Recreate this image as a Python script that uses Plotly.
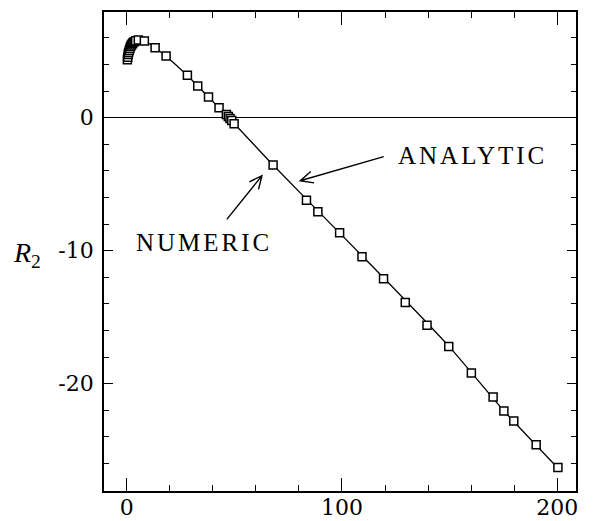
import math
import plotly.graph_objects as go

# Analytic solution, sampled along the curve
analytic_x = [0.3, 1.0, 2.0, 3.0, 4.0, 5.5, 8.0, 10.0, 13.0, 18.0, 28.0, 38.0, 50.0,
              68.0, 100.0, 120.0, 150.0, 175.0, 200.0]
analytic_y = [4.35, 4.95, 5.45, 5.68, 5.80, 5.86, 5.80, 5.62, 5.28, 4.66, 3.20, 1.56, -0.45,
              -3.56, -8.85, -12.15, -17.25, -22.0, -26.3]

# Numerical solution points
numeric_x = [0.3, 0.5, 0.7, 0.9, 1.2, 1.5, 1.8, 2.2, 2.6, 3.0, 3.5, 4.2, 5.4, 8.2,
             13.2, 18.3, 28.2, 33.0, 38.0, 42.9, 46.3, 47.2, 48.0, 48.8, 49.9,
             68.0, 83.5, 88.8, 98.9, 109.3, 119.3, 129.4, 139.5, 149.6, 160.1,
             170.2, 175.2, 179.8, 190.2, 200.3]
numeric_y = [4.35, 4.55, 4.75, 4.90, 5.05, 5.20, 5.35, 5.47, 5.57, 5.65, 5.72, 5.79, 5.84, 5.77,
             5.26, 4.64, 3.19, 2.38, 1.56, 0.75, 0.25, 0.10, -0.05, -0.20, -0.45,
             -3.56, -6.2, -7.07, -8.65, -10.45, -12.1, -13.9, -15.6, -17.2, -19.2,
             -21.0, -22.05, -22.8, -24.6, -26.3]

# Axis ticks
x_major = [0, 100, 200]
x_major_text = ["0", "100", "200"]
y_major = [0, -10, -20]
y_major_text = ["0", "-10", "-20"]

W, H = 593, 521
MARGIN = dict(l=104, r=17, t=12, b=30)
X_RANGE = [-10.54, 208.7]
Y_RANGE = [-28.07, 7.95]

plot_w = W - MARGIN["l"] - MARGIN["r"]
plot_h = H - MARGIN["t"] - MARGIN["b"]
px_x = plot_w / (X_RANGE[1] - X_RANGE[0])
px_y = plot_h / (Y_RANGE[1] - Y_RANGE[0])


def arrow_path(tail, tip, head_len=14, half_angle=25):
    """Open-V arrow from tail to tip (data coords), head sized in pixels."""
    dx = (tail[0] - tip[0]) * px_x
    dy = (tail[1] - tip[1]) * px_y
    ang = math.atan2(dy, dx)
    pts = []
    for s in (-1, 1):
        a = ang + s * math.radians(half_angle)
        pts.append((tip[0] + head_len * math.cos(a) / px_x,
                    tip[1] + head_len * math.sin(a) / px_y))
    return (f"M{tail[0]},{tail[1]} L{tip[0]},{tip[1]} "
            f"M{pts[0][0]},{pts[0][1]} L{tip[0]},{tip[1]} L{pts[1][0]},{pts[1][1]}")


fig = go.Figure()
fig.add_trace(go.Scatter(x=analytic_x, y=analytic_y, mode="lines",
                         line=dict(color="black", width=1.3, shape="spline", smoothing=0.6),
                         hoverinfo="skip"))
fig.add_trace(go.Scatter(x=numeric_x, y=numeric_y, mode="markers",
                         marker=dict(symbol="square", size=8, color="white",
                                     line=dict(color="black", width=1.5))))

label_font = dict(family="Liberation Serif", size=25, color="black")
fig.add_annotation(x=160.5, y=-2.88, xref="x", yref="y", showarrow=False, yshift=1,
                   text='<span style="letter-spacing:3px">ANALYTIC</span>', font=label_font)
fig.add_annotation(x=35.8, y=-9.42, xref="x", yref="y", showarrow=False, yshift=0,
                   text='<span style="letter-spacing:3px">NUMERIC</span>', font=label_font)
fig.add_annotation(x=(11 - MARGIN["l"]) / plot_w, y=(H - MARGIN["b"] - 255) / plot_h,
                   xref="paper", yref="paper", xanchor="left", showarrow=False,
                   text="<i>R</i><sub>2</sub>",
                   font=dict(family="Liberation Serif", size=28, color="black"))

fig.add_shape(type="path", xref="x", yref="y",
              path=arrow_path((119.4, -2.93), (80.6, -4.74)),
              line=dict(color="black", width=1.4))
fig.add_shape(type="path", xref="x", yref="y",
              path=arrow_path((46.5, -7.64), (62.8, -4.36)),
              line=dict(color="black", width=1.4))

axis_common = dict(showline=True, linecolor="black", linewidth=1.6, mirror="ticks",
                   ticks="inside", tickcolor="black", tickwidth=1.4, showgrid=False,
                   automargin=False,
                   tickfont=dict(family="DejaVu Serif", size=22, color="black"))
fig.update_xaxes(range=X_RANGE, tickmode="array", tickvals=x_major, ticktext=x_major_text,
                 ticklen=13, zeroline=False, ticklabelstandoff=-4,
                 minor=dict(tick0=0, dtick=20, ticks="inside", ticklen=6,
                            tickcolor="black", tickwidth=1.4, showgrid=False),
                 **axis_common)
fig.update_yaxes(range=Y_RANGE, tickmode="array", tickvals=y_major, ticktext=y_major_text,
                 ticklen=9, zeroline=True, zerolinecolor="black", zerolinewidth=1.3,
                 ticklabelstandoff=4,
                 minor=dict(tick0=0, dtick=2, ticks="inside", ticklen=5,
                            tickcolor="black", tickwidth=1.4, showgrid=False),
                 **axis_common)

fig.update_layout(width=W, height=H, margin=MARGIN, showlegend=False,
                  plot_bgcolor="white", paper_bgcolor="white")

fig.write_html("out.html")
